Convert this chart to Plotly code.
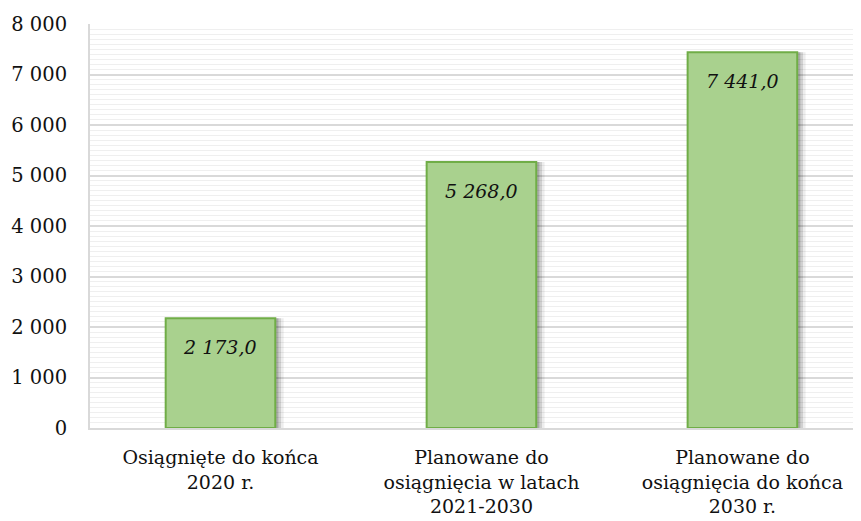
import plotly.graph_objects as go

# dane
kategorie = ["Osiągnięte do końca<br>2020 r.",
             "Planowane do<br>osiągnięcia w latach<br>2021-2030",
             "Planowane do<br>osiągnięcia do końca<br>2030 r."]
wartosci = [2173.0, 5268.0, 7441.0]
etykiety = ["2 173,0", "5 268,0", "7 441,0"]
ticki_y = [0, 1000, 2000, 3000, 4000, 5000, 6000, 7000, 8000]
ticki_y_tekst = ["0", "1 000", "2 000", "3 000", "4 000", "5 000", "6 000", "7 000", "8 000"]

FONT = "DejaVu Serif"
x_pos = list(range(len(kategorie)))

fig = go.Figure()

# cień pod słupkami (rozmyty - kilka warstw)
for dx, alpha in [(0.032, 0.07), (0.022, 0.12), (0.012, 0.18)]:
    fig.add_trace(go.Bar(
        x=x_pos, y=wartosci, width=0.42, offset=-0.21 + dx,
        marker=dict(color=f"rgba(0,0,0,{alpha})", line=dict(width=0)),
        hoverinfo="skip", showlegend=False))

# słupki
fig.add_trace(go.Bar(
    x=x_pos, y=wartosci, width=0.42,
    marker=dict(color="#A9D18E", line=dict(color="#70AD47", width=2)),
    showlegend=False))

# etykiety danych (kursywa, wewnątrz u góry)
for xi, v, t in zip(x_pos, wartosci, etykiety):
    fig.add_annotation(x=xi, y=v, text=t, showarrow=False, yshift=-29,
                       font=dict(family=FONT, size=19, color="#111111", style="italic"))

# body strony ma margines 8 px, stąd l=82, t=16
fig.update_layout(
    width=861, height=521,
    margin=dict(l=82, r=0, t=16, b=101),
    barmode="overlay",
    plot_bgcolor="white", paper_bgcolor="white",
    font=dict(family=FONT, size=19, color="#111111"),
)
fig.update_xaxes(
    range=[-0.5, 2.485],
    tickvals=x_pos, ticktext=kategorie,
    showgrid=False, zeroline=False,
    showline=True, linecolor="#D9D9D9", linewidth=2,
    ticks="", tickfont=dict(size=19), automargin=False,
    ticklabelstandoff=11,
)
fig.update_yaxes(
    range=[0, 8000],
    tickvals=ticki_y, ticktext=ticki_y_tekst,
    showgrid=True, gridcolor="#D9D9D9", gridwidth=1.5,
    minor=dict(dtick=100, showgrid=True, gridcolor="#EFEFEF", gridwidth=1),
    zeroline=False,
    showline=True, linecolor="#D9D9D9", linewidth=2,
    ticks="", ticklabelstandoff=17, tickfont=dict(size=19.5), automargin=False,
)

fig.write_html("out.html")
